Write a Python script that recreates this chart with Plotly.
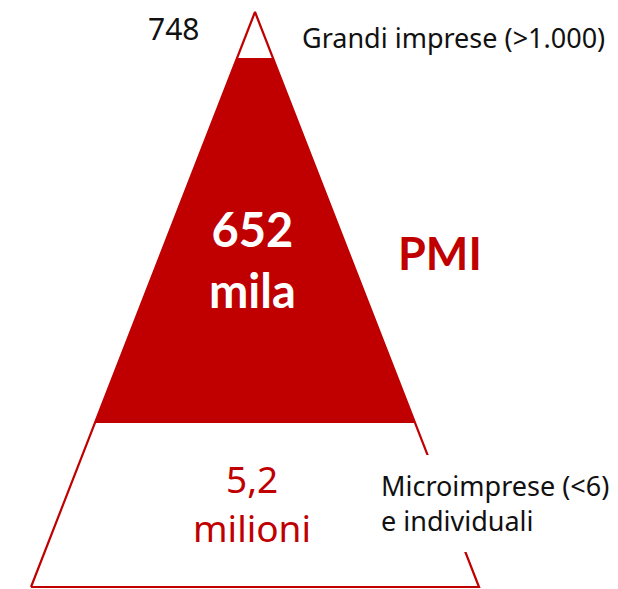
import plotly.graph_objects as go

# --- dati ---
fasce = ["Grandi imprese (>1.000)", "PMI", ["Microimprese (<6)", "e individuali"]]
valori = ["748", ["652", "mila"], ["5,2", "milioni"]]
# confini verticali delle fasce (unità del disegno, dall'apice alla base)
apice_y = 12
confini_y = [58, 423, 587]
apice_x = 255
mezza_base = 224

ROSSO = "#C00000"
NERO = "#111111"


def mezza_larghezza(y):
    return mezza_base * (y - apice_y) / (confini_y[-1] - apice_y)


fig = go.Figure()

# contorno della piramide
base_y = confini_y[-1]
fig.add_trace(go.Scatter(
    x=[apice_x - mezza_larghezza(base_y), apice_x, apice_x + mezza_larghezza(base_y), apice_x - mezza_larghezza(base_y)],
    y=[base_y, apice_y, base_y, base_y],
    mode="lines", line=dict(color=ROSSO, width=2.2),
    hoverinfo="skip", showlegend=False,
))

# fascia PMI piena
y0, y1 = confini_y[0], confini_y[1]
fig.add_trace(go.Scatter(
    x=[apice_x - mezza_larghezza(y0), apice_x + mezza_larghezza(y0),
       apice_x + mezza_larghezza(y1), apice_x - mezza_larghezza(y1)],
    y=[y0, y0, y1, y1],
    mode="lines", fill="toself", fillcolor=ROSSO, line=dict(color=ROSSO, width=0),
    hoverinfo="skip", showlegend=False,
))

FONT = "Noto Sans"
BOLD = "Lato"

# fondo bianco dietro l'etichetta delle microimprese (copre il bordo)
fig.add_shape(type="rect", xref="x", yref="y", x0=374, x1=618, y0=455, y1=552,
              fillcolor="white", line=dict(width=0), layer="above")

annotazioni = [
    dict(x=173, y=28, text=valori[0], font=dict(family=FONT, size=30, color=NERO), xanchor="center"),
    dict(x=300, y=37, text=fasce[0], font=dict(family=FONT, size=27, color=NERO), xanchor="left"),
    dict(x=252, y=259, text="<b>" + "<br>".join(valori[1]) + "</b>",
         font=dict(family=BOLD, size=47, color="white")),
    dict(x=440, y=253, text="<b>" + fasce[1] + "</b>", font=dict(family=BOLD, size=45, color=ROSSO)),
    dict(x=252, y=478, text=valori[2][0], font=dict(family=FONT, size=37, color=ROSSO)),
    dict(x=252, y=527, text=valori[2][1], font=dict(family=FONT, size=37, color=ROSSO)),
    dict(x=379, y=503, text="<br>".join(fasce[2]), font=dict(family=FONT, size=27, color=NERO),
         xanchor="left", align="left"),
]
for a in annotazioni:
    fig.add_annotation(xref="x", yref="y", showarrow=False, yanchor="middle", **a)

fig.update_layout(
    width=618, height=589,
    margin=dict(l=0, r=0, t=0, b=0),
    paper_bgcolor="white", plot_bgcolor="white",
    xaxis=dict(range=[0, 618], visible=False, fixedrange=True),
    yaxis=dict(range=[589, 0], visible=False, fixedrange=True),
)

fig.write_html("out.html", config={"displayModeBar": False},
               post_script="document.body.style.margin='0';")
